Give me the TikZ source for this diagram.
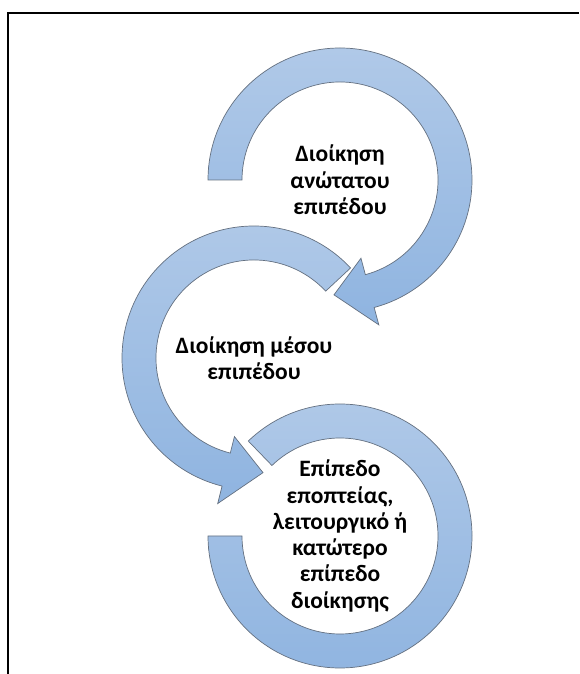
\documentclass[tikz,border=0pt]{standalone}
\usepackage{fontspec}
\setmainfont{Carlito}
\definecolor{ringtop}{RGB}{176,201,232}
\definecolor{ringbot}{RGB}{143,180,224}
\definecolor{ringedge}{RGB}{100,112,128}
\tikzset{
  ringshape/.style={top color=ringtop, bottom color=ringbot, draw=ringedge,
    line width=0.7pt, line join=miter},
  label/.style={align=center, font=\fontsize{23.5}{26.3}\selectfont\bfseries,
    text=black, inner sep=0pt}
}
\begin{document}
\begin{tikzpicture}[x=1pt,y=1pt]
  \useasboundingbox (0,0) rectangle (579,674);
  % frame: left and top rules
  \draw[line width=2pt] (8,0) -- (8,661) -- (579,661);

  % centres of the three circular arrows
  \coordinate (c1) at (340,494);
  \coordinate (c2) at (254,316);
  \coordinate (c3) at (340,138);

  % upper arrow: from the left, clockwise, head pointing down-left
  \shadedraw[ringshape]
    ([shift={(c1)}]180:132) arc[start angle=180, end angle=-75, radius=132]
    -- ([shift={(c1)}]-75:150) -- ([shift={(c1)}]-93:115)
    -- ([shift={(c1)}]-75:81) -- ([shift={(c1)}]-75:98)
    arc[start angle=-75, end angle=180, radius=98] -- cycle;

  % middle arrow: anticlockwise, head pointing right
  \shadedraw[ringshape]
    ([shift={(c2)}]43:132) arc[start angle=43, end angle=256, radius=132]
    -- ([shift={(c2)}]256:150) -- ([shift={(c2)}]274.5:115)
    -- ([shift={(c2)}]256:81) -- ([shift={(c2)}]256:98)
    arc[start angle=256, end angle=43, radius=98] -- cycle;

  % lower ring without head
  \shadedraw[ringshape]
    ([shift={(c3)}]134:132) arc[start angle=134, end angle=-180, radius=132]
    -- ([shift={(c3)}]-180:98)
    arc[start angle=-180, end angle=134, radius=98] -- cycle;

  \node[label] (t1) at (c1) {Διοίκηση\\ανώτατου\\επιπέδου};
  \node[label] (t2) at (c2) {Διοίκηση μέσου\\επιπέδου};
  \node[label] (t3) at (c3) {Επίπεδο\\εποπτείας,\\λειτουργικό ή\\κατώτερο\\επίπεδο\\διοίκησης};
\end{tikzpicture}
\end{document}
